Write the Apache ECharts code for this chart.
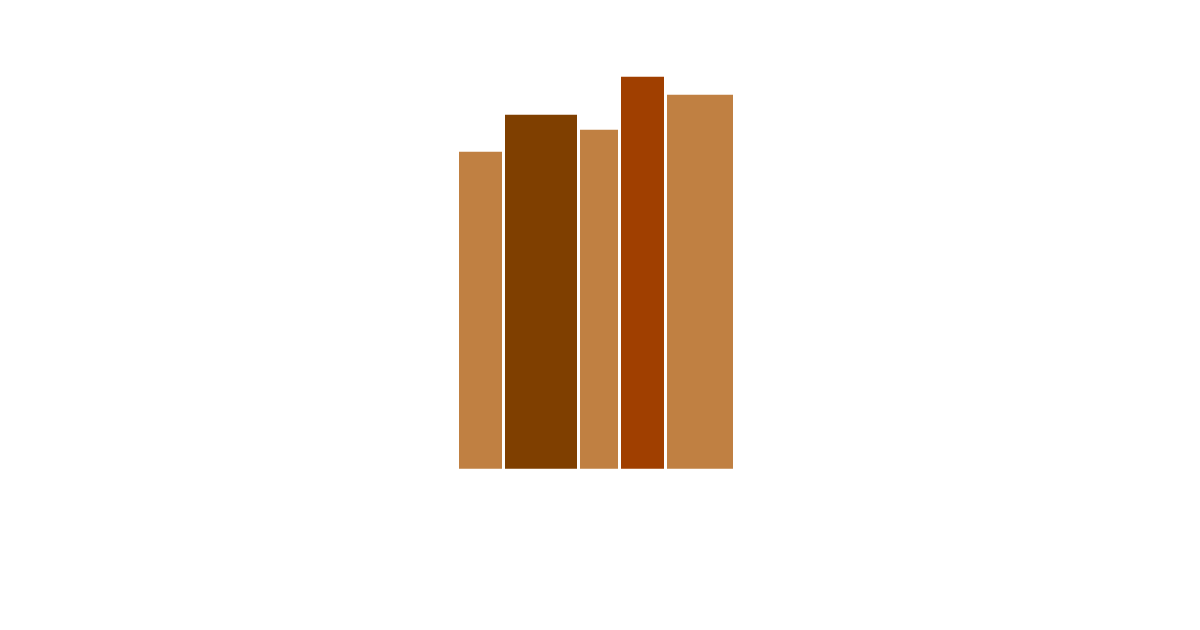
<!DOCTYPE html>
<html>
<head>
<meta charset="utf-8">
<script src="https://cdn.jsdelivr.net/npm/echarts@6/dist/echarts.min.js"></script>
<style>
  html, body { margin: 0; padding: 0; background: #ffffff; }
  #charts_box { width: 1200px; height: 630px; }
</style>
</head>
<body>
<div id="charts_box"></div>
<script>
// bar widths (x units) and heights (y units)
var widths = [46, 75, 41, 46, 69];
var heights = [317, 354, 339, 392, 374];
var barColors = ['#C08042', '#7F3F00', '#C08042', '#A03F00', '#C08042'];

window.onload = function () {
    var myChart = echarts.init(document.getElementById('charts_box'));

    // start of each bar = sum of widths before it
    var data = [];
    var start = 0;
    for (var i = 0; i < widths.length; i++) {
        data.push([start, widths[i], heights[i]]);
        start += widths[i];
    }

    var option = {
        backgroundColor: '#ffffff',
        animation: false,
        grid: { left: 459, width: 277, top: 68.7, bottom: 161.3 },
        xAxis: { type: 'value', min: 0, max: 277, show: false },
        yAxis: { type: 'value', min: 0, max: 400, show: false },
        series: [{
            type: 'custom',
            data: data,
            renderItem: function (params, api) {
                var x0 = api.value(0);
                var w = api.value(1);
                var h = api.value(2);
                var p0 = api.coord([x0, 0]);
                var p1 = api.coord([x0 + w, h]);
                return {
                    type: 'rect',
                    shape: {
                        x: p0[0],
                        y: p1[1],
                        width: p1[0] - p0[0] - 3,
                        height: p0[1] - p1[1]
                    },
                    style: { fill: barColors[params.dataIndex] }
                };
            }
        }]
    };
    myChart.setOption(option);
};
</script>
</body>
</html>
